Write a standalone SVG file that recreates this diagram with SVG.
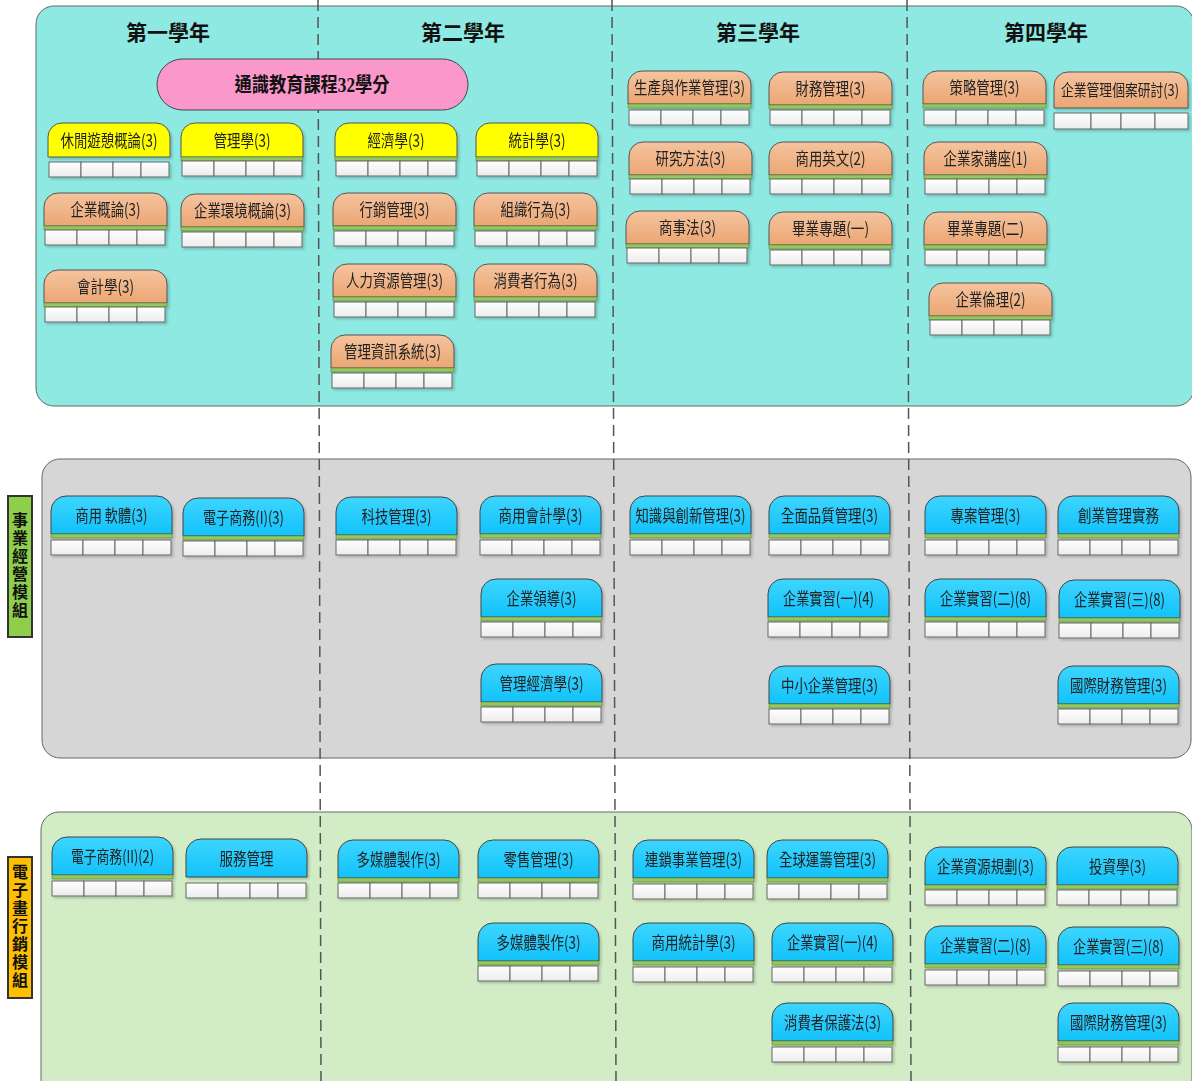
<svg xmlns="http://www.w3.org/2000/svg" xmlns:xlink="http://www.w3.org/1999/xlink" width="1192" height="1081" viewBox="0 0 1192 1081">
<style>
.t{font-family:"Noto Sans CJK TC","Noto Sans CJK SC",sans-serif;font-size:17px;fill:#222;text-anchor:middle}
.yr{font-family:"Noto Sans CJK TC","Noto Sans CJK SC",sans-serif;font-size:21px;font-weight:bold;fill:#111;text-anchor:middle}
.side{font-family:"Noto Sans CJK TC","Noto Sans CJK SC",sans-serif;font-size:16px;font-weight:bold;fill:#111;text-anchor:middle;writing-mode:vertical-rl;letter-spacing:2px}
.tabO{fill:url(#gO);stroke:#555;stroke-width:1}
.tabB{fill:url(#gB);stroke:#444;stroke-width:1}
.tabY{fill:#ffff00;stroke:#555;stroke-width:1}
.bar{fill:#93c85f;stroke:#5b7f3c;stroke-width:0.6}
.cell{fill:url(#gC);stroke:#666;stroke-width:1}
.dash{stroke:#555;stroke-width:1.5;stroke-dasharray:11 6;fill:none}
.node{filter:url(#sh)}
</style>
<defs>
<linearGradient id="gO" x1="0" y1="0" x2="0" y2="1"><stop offset="0" stop-color="#f5c49e"/><stop offset="1" stop-color="#eba674"/></linearGradient>
<linearGradient id="gB" x1="0" y1="0" x2="0" y2="1"><stop offset="0" stop-color="#3dd5ff"/><stop offset="1" stop-color="#12c2fa"/></linearGradient>
<linearGradient id="gC" x1="0" y1="0" x2="0" y2="1"><stop offset="0" stop-color="#ffffff"/><stop offset="1" stop-color="#ececec"/></linearGradient>
<filter id="sh" x="-5%" y="-10%" width="115%" height="130%"><feDropShadow dx="2" dy="2" stdDeviation="1.2" flood-color="#000" flood-opacity="0.18"/></filter>
<path id="tabO" class="tabO" d="M0,33 V14 A14,14 0 0 1 14,0 H109 A14,14 0 0 1 123,14 V33 Z"/>
<path id="tabY" class="tabY" d="M0,34 V14 A14,14 0 0 1 14,0 H108 A14,14 0 0 1 122,14 V34 Z"/>
<path id="tabB" class="tabB" d="M0,38 V15 A15,15 0 0 1 15,0 H106 A15,15 0 0 1 121,15 V38 Z"/>
<rect id="barO" class="bar" x="0" y="33" width="123" height="4"/>
<rect id="barY" class="bar" x="0" y="34" width="122" height="4"/>
<rect id="barB" class="bar" x="0" y="38" width="121" height="4"/>
<g id="cells">
<rect class="cell" x="0" y="0" width="32" height="15"/>
<rect class="cell" x="32" y="0" width="32" height="15"/>
<rect class="cell" x="64" y="0" width="28" height="15"/>
<rect class="cell" x="92" y="0" width="28" height="15"/>
</g>
</defs>

<g id="panels">
<rect x="36" y="6" width="1158" height="400" rx="18" fill="#8de9e2" stroke="#666" stroke-width="1"/>
<rect x="42" y="459" width="1149" height="299" rx="18" fill="#d6d6d6" stroke="#666" stroke-width="1"/>
<rect x="41" y="812" width="1151" height="290" rx="18" fill="#d2edc5" stroke="#666" stroke-width="1"/>
</g>

<g id="connectors">
<line class="dash" x1="318" y1="0" x2="321" y2="1081"/>
<line class="dash" x1="612" y1="0" x2="616" y2="1081"/>
<line class="dash" x1="907" y1="0" x2="911" y2="1081"/>
</g>

<g id="years">
<text class="yr" x="168" y="40">第一學年</text>
<text class="yr" x="463" y="40">第二學年</text>
<text class="yr" x="758" y="40">第三學年</text>
<text class="yr" x="1046" y="40">第四學年</text>
</g>

<g id="general">
<rect x="157" y="59" width="311" height="51" rx="25.5" fill="#fb98cb" stroke="#444" stroke-width="1"/>
<text x="312" y="92" font-family="'Liberation Serif','Noto Sans CJK TC',serif" font-size="20" font-weight="bold" fill="#111" text-anchor="middle" textLength="155" lengthAdjust="spacingAndGlyphs">通識教育課程32學分</text>
</g>

<g id="side-labels">
<g id="module-biz"><rect x="8" y="496" width="24" height="141" fill="#8fce4a" stroke="#333" stroke-width="2"/><text class="side" x="20" y="566">事業經營模組</text></g>
<g id="module-emk"><rect x="8" y="857" width="24" height="141" fill="#ffc000" stroke="#333" stroke-width="2"/><text class="side" x="20" y="927">電子畫行銷模組</text></g>
</g>

<!-- Yellow nodes -->
<g id="y1" class="node" transform="translate(48,123)"><use href="#tabY"/><use href="#cells" x="1" y="39"/><text class="t" x="61" y="23.5" textLength="97" lengthAdjust="spacingAndGlyphs">休閒遊憩概論(3)</text></g>
<g id="y2" class="node" transform="translate(181,123)"><use href="#tabY"/><use href="#barY"/><use href="#cells" x="1" y="38"/><text class="t" x="61" y="23.5" textLength="57" lengthAdjust="spacingAndGlyphs">管理學(3)</text></g>
<g id="y3" class="node" transform="translate(335,123)"><use href="#tabY"/><use href="#barY"/><use href="#cells" x="1" y="38"/><text class="t" x="61" y="23.5" textLength="57" lengthAdjust="spacingAndGlyphs">經濟學(3)</text></g>
<g id="y4" class="node" transform="translate(476,123)"><use href="#tabY"/><use href="#barY"/><use href="#cells" x="1" y="38"/><text class="t" x="61" y="23.5" textLength="57" lengthAdjust="spacingAndGlyphs">統計學(3)</text></g>

<!-- Orange nodes -->
<g id="o1" class="node" transform="translate(44,193)"><use href="#tabO"/><use href="#barO"/><use href="#cells" x="1" y="37"/><text class="t" x="61.5" y="22.5" textLength="70" lengthAdjust="spacingAndGlyphs">企業概論(3)</text></g>
<g id="o2" class="node" transform="translate(181,194)"><use href="#tabO"/><use href="#barO"/><use href="#cells" x="1" y="38"/><text class="t" x="61.5" y="22.5" textLength="97" lengthAdjust="spacingAndGlyphs">企業環境概論(3)</text></g>
<g id="o3" class="node" transform="translate(44,270)"><use href="#tabO"/><use href="#barO"/><use href="#cells" x="1" y="37"/><text class="t" x="61.5" y="22.5" textLength="57" lengthAdjust="spacingAndGlyphs">會計學(3)</text></g>
<g id="o4" class="node" transform="translate(333,193)"><use href="#tabO"/><use href="#barO"/><use href="#cells" x="1" y="38"/><text class="t" x="61.5" y="22.5" textLength="70" lengthAdjust="spacingAndGlyphs">行銷管理(3)</text></g>
<g id="o5" class="node" transform="translate(474,193)"><use href="#tabO"/><use href="#barO"/><use href="#cells" x="1" y="38"/><text class="t" x="61.5" y="22.5" textLength="70" lengthAdjust="spacingAndGlyphs">組織行為(3)</text></g>
<g id="o6" class="node" transform="translate(333,264)"><use href="#tabO"/><use href="#barO"/><use href="#cells" x="1" y="38"/><text class="t" x="61.5" y="22.5" textLength="97" lengthAdjust="spacingAndGlyphs">人力資源管理(3)</text></g>
<g id="o7" class="node" transform="translate(474,264)"><use href="#tabO"/><use href="#barO"/><use href="#cells" x="1" y="38"/><text class="t" x="61.5" y="22.5" textLength="84" lengthAdjust="spacingAndGlyphs">消費者行為(3)</text></g>
<g id="o8" class="node" transform="translate(331,335)"><use href="#tabO"/><use href="#barO"/><use href="#cells" x="1" y="38"/><text class="t" x="61.5" y="22.5" textLength="97" lengthAdjust="spacingAndGlyphs">管理資訊系統(3)</text></g>
<g id="o9" class="node" transform="translate(628,71)"><use href="#tabO"/><use href="#barO"/><use href="#cells" x="1" y="39"/><text class="t" x="61.5" y="22.5" textLength="111" lengthAdjust="spacingAndGlyphs">生產與作業管理(3)</text></g>
<g id="o10" class="node" transform="translate(769,72)"><use href="#tabO"/><use href="#barO"/><use href="#cells" x="1" y="38"/><text class="t" x="61.5" y="22.5" textLength="70" lengthAdjust="spacingAndGlyphs">財務管理(3)</text></g>
<g id="o11" class="node" transform="translate(629,142)"><use href="#tabO"/><use href="#barO"/><use href="#cells" x="1" y="37"/><text class="t" x="61.5" y="22.5" textLength="70" lengthAdjust="spacingAndGlyphs">研究方法(3)</text></g>
<g id="o12" class="node" transform="translate(769,142)"><use href="#tabO"/><use href="#barO"/><use href="#cells" x="1" y="37"/><text class="t" x="61.5" y="22.5" textLength="70" lengthAdjust="spacingAndGlyphs">商用英文(2)</text></g>
<g id="o13" class="node" transform="translate(626,211)"><use href="#tabO"/><use href="#barO"/><use href="#cells" x="1" y="37"/><text class="t" x="61.5" y="22.5" textLength="57" lengthAdjust="spacingAndGlyphs">商事法(3)</text></g>
<g id="o14" class="node" transform="translate(769,212)"><use href="#tabO"/><use href="#barO"/><use href="#cells" x="1" y="38"/><text class="t" x="61.5" y="22.5" textLength="77" lengthAdjust="spacingAndGlyphs">畢業專題(一)</text></g>
<g id="o15" class="node" transform="translate(923,71)"><use href="#tabO"/><use href="#barO"/><use href="#cells" x="1" y="39"/><text class="t" x="61.5" y="22.5" textLength="70" lengthAdjust="spacingAndGlyphs">策略管理(3)</text></g>
<g id="o16" class="node" transform="translate(1054,72)"><path class="tabO" d="M0,36 V14 A14,14 0 0 1 14,0 H120 A14,14 0 0 1 134,14 V36 Z"/><rect class="cell" x="0" y="41" width="37" height="16"/><rect class="cell" x="37" y="41" width="30" height="16"/><rect class="cell" x="67" y="41" width="34" height="16"/><rect class="cell" x="101" y="41" width="33" height="16"/><text class="t" transform="translate(66,23.5) scale(0.8,1)" x="0" y="0" style="font-size:16px">企業管理個案研討(3)</text></g>
<g id="o17" class="node" transform="translate(924,142)"><use href="#tabO"/><use href="#barO"/><use href="#cells" x="1" y="37"/><text class="t" x="61.5" y="22.5" textLength="84" lengthAdjust="spacingAndGlyphs">企業家講座(1)</text></g>
<g id="o18" class="node" transform="translate(924,212)"><use href="#tabO"/><use href="#barO"/><use href="#cells" x="1" y="38"/><text class="t" x="61.5" y="22.5" textLength="77" lengthAdjust="spacingAndGlyphs">畢業專題(二)</text></g>
<g id="o19" class="node" transform="translate(929,283)"><use href="#tabO"/><use href="#barO"/><use href="#cells" x="1" y="37"/><text class="t" x="61.5" y="22.5" textLength="70" lengthAdjust="spacingAndGlyphs">企業倫理(2)</text></g>

<!-- Blue nodes: business module -->
<g id="b1" class="node" transform="translate(51,496)"><use href="#tabB"/><use href="#barB"/><use href="#cells" x="0" y="44"/><text class="t" x="60.5" y="25.5" textLength="72" lengthAdjust="spacingAndGlyphs">商用 軟體(3)</text></g>
<g id="b2" class="node" transform="translate(183,498)"><use href="#tabB"/><use href="#barB"/><use href="#cells" x="0" y="43"/><text class="t" x="60.5" y="25.5" textLength="81" lengthAdjust="spacingAndGlyphs">電子商務(I)(3)</text></g>
<g id="b3" class="node" transform="translate(336,497)"><use href="#tabB"/><use href="#barB"/><use href="#cells" x="0" y="43"/><text class="t" x="60.5" y="25.5" textLength="70" lengthAdjust="spacingAndGlyphs">科技管理(3)</text></g>
<g id="b4" class="node" transform="translate(480,496)"><use href="#tabB"/><use href="#barB"/><use href="#cells" x="0" y="44"/><text class="t" x="60.5" y="25.5" textLength="84" lengthAdjust="spacingAndGlyphs">商用會計學(3)</text></g>
<g id="b5" class="node" transform="translate(481,579)"><use href="#tabB"/><use href="#barB"/><use href="#cells" x="0" y="43"/><text class="t" x="60.5" y="25.5" textLength="70" lengthAdjust="spacingAndGlyphs">企業領導(3)</text></g>
<g id="b6" class="node" transform="translate(481,664)"><use href="#tabB"/><use href="#barB"/><use href="#cells" x="0" y="43"/><text class="t" x="60.5" y="25.5" textLength="84" lengthAdjust="spacingAndGlyphs">管理經濟學(3)</text></g>
<g id="b7" class="node" transform="translate(630,496)"><use href="#tabB"/><use href="#barB"/><use href="#cells" x="0" y="44"/><text class="t" x="60.5" y="25.5" textLength="110" lengthAdjust="spacingAndGlyphs">知識與創新管理(3)</text></g>
<g id="b8" class="node" transform="translate(769,496)"><use href="#tabB"/><use href="#barB"/><use href="#cells" x="0" y="44"/><text class="t" x="60.5" y="25.5" textLength="97" lengthAdjust="spacingAndGlyphs">全面品質管理(3)</text></g>
<g id="b9" class="node" transform="translate(768,579)"><use href="#tabB"/><use href="#barB"/><use href="#cells" x="0" y="43"/><text class="t" x="60.5" y="25.5" textLength="91" lengthAdjust="spacingAndGlyphs">企業實習(一)(4)</text></g>
<g id="b10" class="node" transform="translate(769,666)"><use href="#tabB"/><use href="#barB"/><use href="#cells" x="0" y="43"/><text class="t" x="60.5" y="25.5" textLength="97" lengthAdjust="spacingAndGlyphs">中小企業管理(3)</text></g>
<g id="b11" class="node" transform="translate(925,496)"><use href="#tabB"/><use href="#barB"/><use href="#cells" x="0" y="44"/><text class="t" x="60.5" y="25.5" textLength="70" lengthAdjust="spacingAndGlyphs">專案管理(3)</text></g>
<g id="b12" class="node" transform="translate(1058,496)"><use href="#tabB"/><use href="#barB"/><use href="#cells" x="0" y="44"/><text class="t" x="60.5" y="25.5" textLength="81" lengthAdjust="spacingAndGlyphs">創業管理實務</text></g>
<g id="b13" class="node" transform="translate(925,579)"><use href="#tabB"/><use href="#barB"/><use href="#cells" x="0" y="43"/><text class="t" x="60.5" y="25.5" textLength="91" lengthAdjust="spacingAndGlyphs">企業實習(二)(8)</text></g>
<g id="b14" class="node" transform="translate(1059,580)"><use href="#tabB"/><use href="#barB"/><use href="#cells" x="0" y="43"/><text class="t" x="60.5" y="25.5" textLength="91" lengthAdjust="spacingAndGlyphs">企業實習(三)(8)</text></g>
<g id="b15" class="node" transform="translate(1058,666)"><use href="#tabB"/><use href="#barB"/><use href="#cells" x="0" y="43"/><text class="t" x="60.5" y="25.5" textLength="97" lengthAdjust="spacingAndGlyphs">國際財務管理(3)</text></g>

<!-- Blue nodes: e-marketing module -->
<g id="e1" class="node" transform="translate(52,837)"><use href="#tabB"/><use href="#barB"/><use href="#cells" x="0" y="44"/><text class="t" x="60.5" y="25.5" textLength="83" lengthAdjust="spacingAndGlyphs">電子商務(II)(2)</text></g>
<g id="e2" class="node" transform="translate(186,839)"><use href="#tabB"/><use href="#cells" x="0" y="44"/><text class="t" x="60.5" y="25.5" textLength="54" lengthAdjust="spacingAndGlyphs">服務管理</text></g>
<g id="e3" class="node" transform="translate(338,840)"><use href="#tabB"/><use href="#barB"/><use href="#cells" x="0" y="43"/><text class="t" x="60.5" y="25.5" textLength="84" lengthAdjust="spacingAndGlyphs">多媒體製作(3)</text></g>
<g id="e4" class="node" transform="translate(478,840)"><use href="#tabB"/><use href="#barB"/><use href="#cells" x="0" y="43"/><text class="t" x="60.5" y="25.5" textLength="70" lengthAdjust="spacingAndGlyphs">零售管理(3)</text></g>
<g id="e5" class="node" transform="translate(478,923)"><use href="#tabB"/><use href="#barB"/><use href="#cells" x="0" y="43"/><text class="t" x="60.5" y="25.5" textLength="84" lengthAdjust="spacingAndGlyphs">多媒體製作(3)</text></g>
<g id="e6" class="node" transform="translate(633,840)"><use href="#tabB"/><use href="#barB"/><use href="#cells" x="0" y="44"/><text class="t" x="60.5" y="25.5" textLength="97" lengthAdjust="spacingAndGlyphs">連鎖事業管理(3)</text></g>
<g id="e7" class="node" transform="translate(767,840)"><use href="#tabB"/><use href="#barB"/><use href="#cells" x="0" y="44"/><text class="t" x="60.5" y="25.5" textLength="97" lengthAdjust="spacingAndGlyphs">全球運籌管理(3)</text></g>
<g id="e8" class="node" transform="translate(633,923)"><use href="#tabB"/><use href="#barB"/><use href="#cells" x="0" y="44"/><text class="t" x="60.5" y="25.5" textLength="84" lengthAdjust="spacingAndGlyphs">商用統計學(3)</text></g>
<g id="e9" class="node" transform="translate(772,923)"><use href="#tabB"/><use href="#barB"/><use href="#cells" x="0" y="44"/><text class="t" x="60.5" y="25.5" textLength="91" lengthAdjust="spacingAndGlyphs">企業實習(一)(4)</text></g>
<g id="e10" class="node" transform="translate(772,1003)"><use href="#tabB"/><use href="#barB"/><use href="#cells" x="0" y="44"/><text class="t" x="60.5" y="25.5" textLength="97" lengthAdjust="spacingAndGlyphs">消費者保護法(3)</text></g>
<g id="e11" class="node" transform="translate(925,847)"><use href="#tabB"/><use href="#barB"/><use href="#cells" x="0" y="43"/><text class="t" x="60.5" y="25.5" textLength="97" lengthAdjust="spacingAndGlyphs">企業資源規劃(3)</text></g>
<g id="e12" class="node" transform="translate(1057,847)"><use href="#tabB"/><use href="#barB"/><use href="#cells" x="0" y="43"/><text class="t" x="60.5" y="25.5" textLength="57" lengthAdjust="spacingAndGlyphs">投資學(3)</text></g>
<g id="e13" class="node" transform="translate(925,926)"><use href="#tabB"/><use href="#barB"/><use href="#cells" x="0" y="44"/><text class="t" x="60.5" y="25.5" textLength="91" lengthAdjust="spacingAndGlyphs">企業實習(二)(8)</text></g>
<g id="e14" class="node" transform="translate(1058,927)"><use href="#tabB"/><use href="#barB"/><use href="#cells" x="0" y="44"/><text class="t" x="60.5" y="25.5" textLength="91" lengthAdjust="spacingAndGlyphs">企業實習(三)(8)</text></g>
<g id="e15" class="node" transform="translate(1058,1003)"><use href="#tabB"/><use href="#barB"/><use href="#cells" x="0" y="44"/><text class="t" x="60.5" y="25.5" textLength="97" lengthAdjust="spacingAndGlyphs">國際財務管理(3)</text></g>
</svg>
